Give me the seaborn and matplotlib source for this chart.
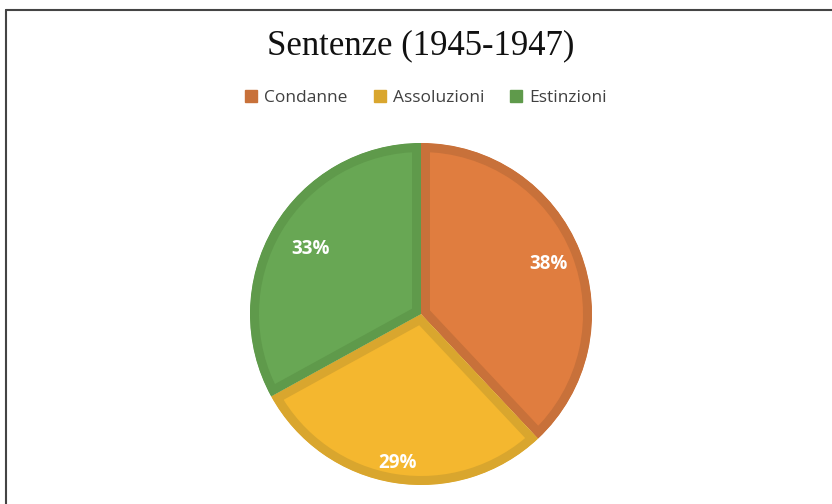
import matplotlib
matplotlib.use("Agg")
import matplotlib.pyplot as plt
import seaborn as sns
from matplotlib.patches import Patch
from matplotlib.lines import Line2D

categories = ["Condanne", "Assoluzioni", "Estinzioni"]
values = [38, 29, 33]
title = "Sentenze (1945-1947)"

fill_colors = ["#E07D3F", "#F4B72F", "#68A754"]
edge_colors = ["#C8713A", "#D9A62E", "#5F9A4B"]
label_dist = [0.80, 0.88, 0.75]

sns.set_theme(style="white")
plt.rcParams["font.family"] = ["Open Sans", "DejaVu Sans"]

W, H = 832, 504
fig = plt.figure(figsize=(W / 100, H / 100), dpi=100)
fig.patch.set_facecolor("white")

cx, cy, R = 421, 314, 171
ax = fig.add_axes([(cx - R) / W, (H - cy - R) / H, 2 * R / W, 2 * R / H])
lw_px = 9
wedges, texts, autotexts = ax.pie(
    values, colors=fill_colors, startangle=90, counterclock=False,
    radius=1.0, autopct="%1.0f%%", pctdistance=0.8,
    wedgeprops=dict(linewidth=2 * lw_px * 0.72, joinstyle="miter"),
    textprops=dict(color="white", fontsize=13.5, fontweight="bold"),
)
for w, ec in zip(wedges, edge_colors):
    w.set_edgecolor(ec)
    w.set_clip_on(True)
    w.set_clip_path(w.get_path(), w.get_transform())
for t, d in zip(autotexts, label_dist):
    x, y = t.get_position()
    s = d / 0.8
    t.set_position((x * s, y * s))
ax.set_xlim(-1, 1)
ax.set_ylim(-1, 1)
ax.set_aspect("equal")
ax.axis("off")

fig.text(cx / W, 1 - 46 / H, title, ha="center", va="center",
         fontsize=25, family=["Liberation Serif", "DejaVu Serif"], color="#111111")

handles = [Patch(facecolor=c, edgecolor=c) for c in edge_colors]
fig.legend(handles, categories, loc="center", bbox_to_anchor=(426 / W, 1 - 98 / H),
           ncol=3, frameon=False, fontsize=12.5, handlelength=0.7, handleheight=0.7,
           handletextpad=0.4, columnspacing=1.5, labelcolor="#404040")

fig.add_artist(Line2D([6 / W, 6 / W], [0, 1 - 10 / H], transform=fig.transFigure,
                      color="#444444", linewidth=1.5))
fig.add_artist(Line2D([6 / W, 1], [1 - 10 / H, 1 - 10 / H], transform=fig.transFigure,
                      color="#444444", linewidth=1.5))

fig.savefig("out.png", dpi=100, facecolor="white")
